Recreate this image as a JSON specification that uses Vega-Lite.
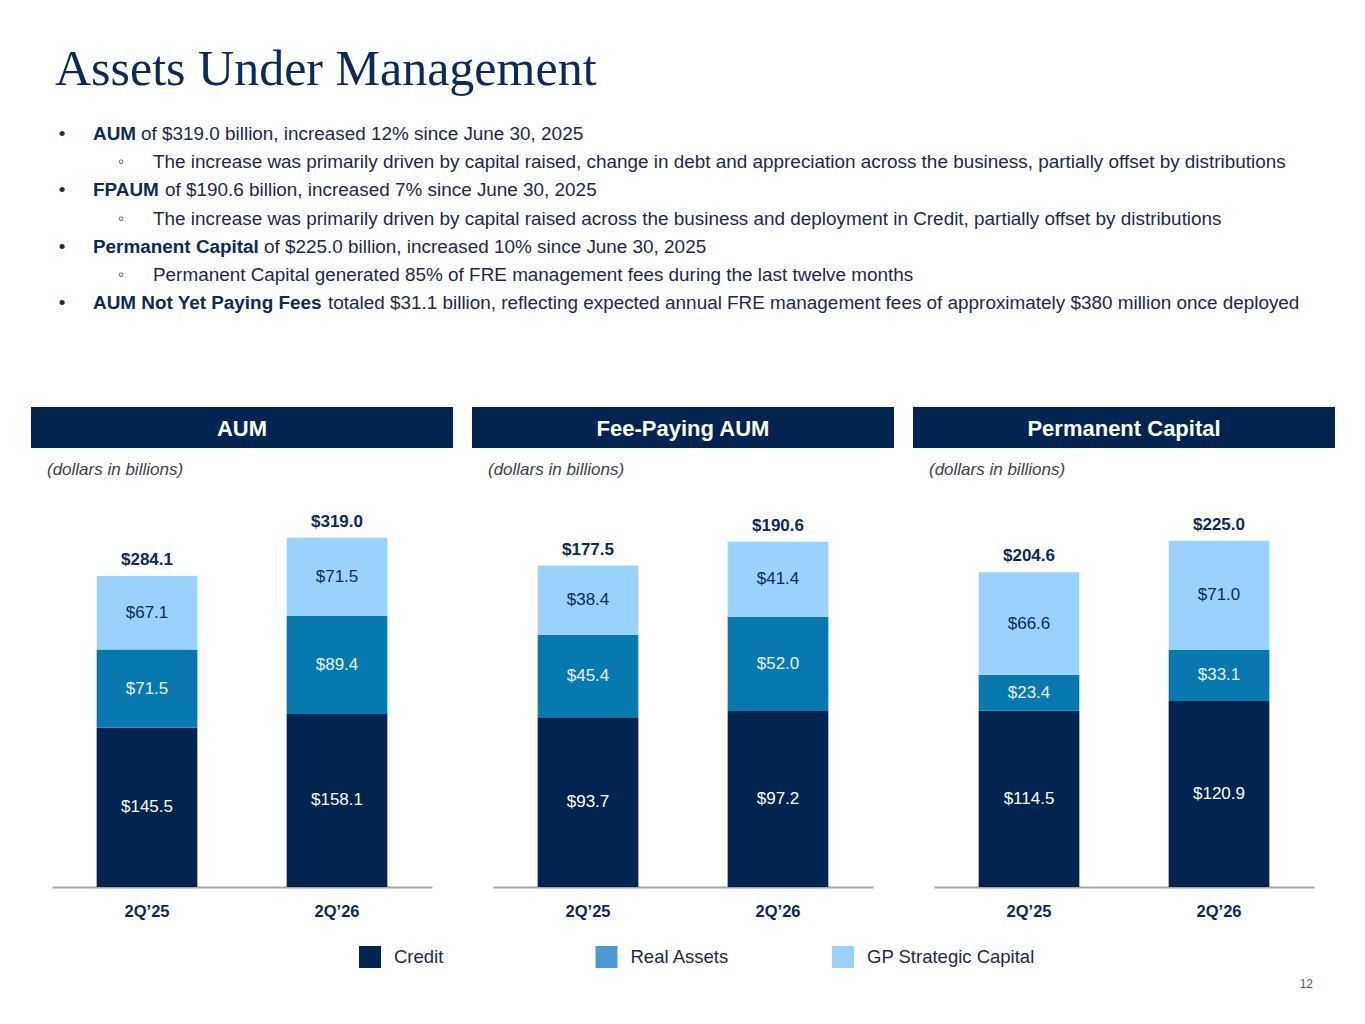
{
  "$schema": "https://vega.github.io/schema/vega-lite/v6.json",
  "background": "white",
  "padding": {"left": 31, "top": 45, "right": 0, "bottom": 0},
  "autosize": {"type": "pad"},
  "config": {
    "font": "Liberation Sans",
    "view": {"stroke": null},
    "axis": {"grid": false},
    "title": {"fontWeight": "normal"}
  },
  "datasets": {
    "bullets": [
      {"line": 1, "level": 1, "lead": "AUM", "rest": "of $319.0 billion, increased 12% since June 30, 2025"},
      {"line": 2, "level": 2, "lead": "", "rest": "The increase was primarily driven by capital raised, change in debt and appreciation across the business, partially offset by distributions"},
      {"line": 3, "level": 1, "lead": "FPAUM", "rest": "of $190.6 billion, increased 7% since June 30, 2025"},
      {"line": 4, "level": 2, "lead": "", "rest": "The increase was primarily driven by capital raised across the business and deployment in Credit, partially offset by distributions"},
      {"line": 5, "level": 1, "lead": "Permanent Capital", "rest": "of $225.0 billion, increased 10% since June 30, 2025"},
      {"line": 6, "level": 2, "lead": "", "rest": "Permanent Capital generated 85% of FRE management fees during the last twelve months"},
      {"line": 7, "level": 1, "lead": "AUM Not Yet Paying Fees", "rest": "totaled $31.1 billion, reflecting expected annual FRE management fees of approximately $380 million once deployed"}
    ],
    "segments": [
      {"panel": "AUM", "quarter": "2Q’25", "series": "Credit", "k": 1, "value": 145.5},
      {"panel": "AUM", "quarter": "2Q’25", "series": "Real Assets", "k": 2, "value": 71.5},
      {"panel": "AUM", "quarter": "2Q’25", "series": "GP Strategic Capital", "k": 3, "value": 67.1},
      {"panel": "AUM", "quarter": "2Q’26", "series": "Credit", "k": 1, "value": 158.1},
      {"panel": "AUM", "quarter": "2Q’26", "series": "Real Assets", "k": 2, "value": 89.4},
      {"panel": "AUM", "quarter": "2Q’26", "series": "GP Strategic Capital", "k": 3, "value": 71.5},
      {"panel": "FPAUM", "quarter": "2Q’25", "series": "Credit", "k": 1, "value": 93.7},
      {"panel": "FPAUM", "quarter": "2Q’25", "series": "Real Assets", "k": 2, "value": 45.4},
      {"panel": "FPAUM", "quarter": "2Q’25", "series": "GP Strategic Capital", "k": 3, "value": 38.4},
      {"panel": "FPAUM", "quarter": "2Q’26", "series": "Credit", "k": 1, "value": 97.2},
      {"panel": "FPAUM", "quarter": "2Q’26", "series": "Real Assets", "k": 2, "value": 52.0},
      {"panel": "FPAUM", "quarter": "2Q’26", "series": "GP Strategic Capital", "k": 3, "value": 41.4},
      {"panel": "PC", "quarter": "2Q’25", "series": "Credit", "k": 1, "value": 114.5},
      {"panel": "PC", "quarter": "2Q’25", "series": "Real Assets", "k": 2, "value": 23.4},
      {"panel": "PC", "quarter": "2Q’25", "series": "GP Strategic Capital", "k": 3, "value": 66.6},
      {"panel": "PC", "quarter": "2Q’26", "series": "Credit", "k": 1, "value": 120.9},
      {"panel": "PC", "quarter": "2Q’26", "series": "Real Assets", "k": 2, "value": 33.1},
      {"panel": "PC", "quarter": "2Q’26", "series": "GP Strategic Capital", "k": 3, "value": 71.0}
    ],
    "totals": [
      {"panel": "AUM", "quarter": "2Q’25", "total": 284.1},
      {"panel": "AUM", "quarter": "2Q’26", "total": 319.0},
      {"panel": "FPAUM", "quarter": "2Q’25", "total": 177.5},
      {"panel": "FPAUM", "quarter": "2Q’26", "total": 190.6},
      {"panel": "PC", "quarter": "2Q’25", "total": 204.6},
      {"panel": "PC", "quarter": "2Q’26", "total": 225.0}
    ],
    "legend": [
      {"series": "Credit"},
      {"series": "Real Assets"},
      {"series": "GP Strategic Capital"}
    ]
  },
  "spacing": 91,
  "vconcat": [
    {
      "width": 1304,
      "height": 198,
      "title": {"text": "Assets Under Management", "anchor": "start", "font": "Liberation Serif", "fontSize": 50, "fontWeight": "normal", "color": "#0B2A5B", "dx": 24, "offset": 23},
      "data": {"name": "bullets"},
      "encoding": {
        "y": {"field": "line", "type": "ordinal", "scale": {"type": "point", "padding": 0.5}, "axis": null},
        "x": {"field": "level", "type": "quantitative", "scale": {"domain": [1, 2], "range": [31, 90]}, "axis": null}
      },
      "layer": [
        {"transform": [{"filter": "datum.level === 1"}], "mark": {"type": "text", "text": "•", "align": "center", "baseline": "middle", "dy": 1.5, "fontSize": 18.9, "color": "#1C2A48"}},
        {"transform": [{"filter": "datum.level === 2"}], "mark": {"type": "text", "text": "◦", "align": "center", "baseline": "middle", "dy": 1.5, "fontSize": 17, "color": "#1C2A48"}},
        {"transform": [{"filter": "datum.level === 2"}], "mark": {"type": "text", "align": "left", "baseline": "middle", "dy": 1.5, "dx": 32, "fontSize": 18.9, "color": "#1C2A48"}, "encoding": {"text": {"field": "rest"}}},
        {"transform": [{"filter": "datum.level === 1"}], "mark": {"type": "text", "align": "left", "baseline": "middle", "dy": 1.5, "dx": 31, "fontSize": 18.9, "fontWeight": "bold", "color": "#0B2A5B"}, "encoding": {"text": {"field": "lead"}}},
        {"transform": [{"filter": "datum.line === 1"}], "mark": {"type": "text", "align": "left", "baseline": "middle", "dy": 1.5, "dx": 79, "fontSize": 18.9, "color": "#1C2A48"}, "encoding": {"text": {"field": "rest"}}},
        {"transform": [{"filter": "datum.line === 3"}], "mark": {"type": "text", "align": "left", "baseline": "middle", "dy": 1.5, "dx": 103, "fontSize": 18.9, "color": "#1C2A48"}, "encoding": {"text": {"field": "rest"}}},
        {"transform": [{"filter": "datum.line === 5"}], "mark": {"type": "text", "align": "left", "baseline": "middle", "dy": 1.5, "dx": 202, "fontSize": 18.9, "color": "#1C2A48"}, "encoding": {"text": {"field": "rest"}}},
        {"transform": [{"filter": "datum.line === 7"}], "mark": {"type": "text", "align": "left", "baseline": "middle", "dy": 1.5, "dx": 266, "fontSize": 18.9, "color": "#1C2A48"}, "encoding": {"text": {"field": "rest"}}}
      ]
    },
    {
      "spacing": 25,
      "vconcat": [
        {
          "spacing": 19,
          "hconcat": [
            {
              "bounds": "flush",
              "spacing": 46,
              "center": true,
              "vconcat": [
                {
                  "width": 422,
                  "height": 41,
                  "view": {"fill": "#012450", "stroke": null},
                  "data": {"values": [{"label": "AUM"}]},
                  "mark": {"type": "text", "font": "Liberation Sans", "fontWeight": "bold", "fontSize": 22, "color": "white", "baseline": "middle", "dy": 1},
                  "encoding": {"text": {"field": "label"}}
                },
                {
                  "width": 380,
                  "height": 393,
                  "title": {"text": "(dollars in billions)", "anchor": "start", "fontStyle": "italic", "fontSize": 17, "color": "#3A3F4A", "dx": -5, "offset": 15},
                  "layer": [
                    {
                      "data": {"name": "segments"},
                      "transform": [
                        {"filter": "datum.panel === 'AUM'"},
                        {"stack": "value", "groupby": ["quarter"], "sort": [{"field": "k", "order": "ascending"}], "as": ["v0", "v1"]}
                      ],
                      "mark": {"type": "bar"},
                      "encoding": {
                        "x": {"field": "quarter", "type": "ordinal", "title": null, "scale": {"paddingInner": 0.47, "paddingOuter": 0.235}, "axis": {"labelAngle": 0, "ticks": false, "tickSize": 0, "labelPadding": 16, "labelFontSize": 16.5, "labelFontWeight": "bold", "labelColor": "#0B2A5B", "domainColor": "#A6A6A6", "domainWidth": 2}},
                        "y": {"field": "v0", "type": "quantitative", "scale": {"domain": [0, 359], "nice": false, "zero": true}, "axis": null},
                        "y2": {"field": "v1"},
                        "color": {"field": "series", "type": "nominal", "scale": {"domain": ["Credit", "Real Assets", "GP Strategic Capital"], "range": ["#012450", "#0779AF", "#99D3FD"]}, "legend": null}
                      }
                    },
                    {
                      "data": {"name": "segments"},
                      "transform": [
                        {"filter": "datum.panel === 'AUM'"},
                        {"stack": "value", "groupby": ["quarter"], "sort": [{"field": "k", "order": "ascending"}], "as": ["v0", "v1"]},
                        {"calculate": "(datum.v0 + datum.v1) / 2", "as": "mid"}
                      ],
                      "mark": {"type": "text", "fontSize": 17, "baseline": "middle"},
                      "encoding": {
                        "x": {"field": "quarter", "type": "ordinal"},
                        "y": {"field": "mid", "type": "quantitative"},
                        "text": {"field": "value", "type": "quantitative", "format": "$.1f"},
                        "color": {"condition": [{"test": "datum.series === 'GP Strategic Capital'", "value": "#0B2A5B"}, {"test": "datum.series === 'Real Assets'", "value": "#E8F3FC"}], "value": "#FFFFFF"}
                      }
                    },
                    {
                      "data": {"name": "totals"},
                      "transform": [{"filter": "datum.panel === 'AUM'"}],
                      "mark": {"type": "text", "fontSize": 17, "fontWeight": "bold", "baseline": "alphabetic", "dy": -11, "color": "#0B2A5B"},
                      "encoding": {
                        "x": {"field": "quarter", "type": "ordinal"},
                        "y": {"field": "total", "type": "quantitative"},
                        "text": {"field": "total", "type": "quantitative", "format": "$.1f"}
                      }
                    }
                  ]
                }
              ]
            },
            {
              "bounds": "flush",
              "spacing": 46,
              "center": true,
              "vconcat": [
                {
                  "width": 422,
                  "height": 41,
                  "view": {"fill": "#012450", "stroke": null},
                  "data": {"values": [{"label": "Fee-Paying AUM"}]},
                  "mark": {"type": "text", "font": "Liberation Sans", "fontWeight": "bold", "fontSize": 22, "color": "white", "baseline": "middle", "dy": 1},
                  "encoding": {"text": {"field": "label"}}
                },
                {
                  "width": 380,
                  "height": 393,
                  "title": {"text": "(dollars in billions)", "anchor": "start", "fontStyle": "italic", "fontSize": 17, "color": "#3A3F4A", "dx": -5, "offset": 15},
                  "layer": [
                    {
                      "data": {"name": "segments"},
                      "transform": [
                        {"filter": "datum.panel === 'FPAUM'"},
                        {"stack": "value", "groupby": ["quarter"], "sort": [{"field": "k", "order": "ascending"}], "as": ["v0", "v1"]}
                      ],
                      "mark": {"type": "bar"},
                      "encoding": {
                        "x": {"field": "quarter", "type": "ordinal", "title": null, "scale": {"paddingInner": 0.47, "paddingOuter": 0.235}, "axis": {"labelAngle": 0, "ticks": false, "tickSize": 0, "labelPadding": 16, "labelFontSize": 16.5, "labelFontWeight": "bold", "labelColor": "#0B2A5B", "domainColor": "#A6A6A6", "domainWidth": 2}},
                        "y": {"field": "v0", "type": "quantitative", "scale": {"domain": [0, 217], "nice": false, "zero": true}, "axis": null},
                        "y2": {"field": "v1"},
                        "color": {"field": "series", "type": "nominal", "scale": {"domain": ["Credit", "Real Assets", "GP Strategic Capital"], "range": ["#012450", "#0779AF", "#99D3FD"]}, "legend": null}
                      }
                    },
                    {
                      "data": {"name": "segments"},
                      "transform": [
                        {"filter": "datum.panel === 'FPAUM'"},
                        {"stack": "value", "groupby": ["quarter"], "sort": [{"field": "k", "order": "ascending"}], "as": ["v0", "v1"]},
                        {"calculate": "(datum.v0 + datum.v1) / 2", "as": "mid"}
                      ],
                      "mark": {"type": "text", "fontSize": 17, "baseline": "middle"},
                      "encoding": {
                        "x": {"field": "quarter", "type": "ordinal"},
                        "y": {"field": "mid", "type": "quantitative"},
                        "text": {"field": "value", "type": "quantitative", "format": "$.1f"},
                        "color": {"condition": [{"test": "datum.series === 'GP Strategic Capital'", "value": "#0B2A5B"}, {"test": "datum.series === 'Real Assets'", "value": "#E8F3FC"}], "value": "#FFFFFF"}
                      }
                    },
                    {
                      "data": {"name": "totals"},
                      "transform": [{"filter": "datum.panel === 'FPAUM'"}],
                      "mark": {"type": "text", "fontSize": 17, "fontWeight": "bold", "baseline": "alphabetic", "dy": -11, "color": "#0B2A5B"},
                      "encoding": {
                        "x": {"field": "quarter", "type": "ordinal"},
                        "y": {"field": "total", "type": "quantitative"},
                        "text": {"field": "total", "type": "quantitative", "format": "$.1f"}
                      }
                    }
                  ]
                }
              ]
            },
            {
              "bounds": "flush",
              "spacing": 46,
              "center": true,
              "vconcat": [
                {
                  "width": 422,
                  "height": 41,
                  "view": {"fill": "#012450", "stroke": null},
                  "data": {"values": [{"label": "Permanent Capital"}]},
                  "mark": {"type": "text", "font": "Liberation Sans", "fontWeight": "bold", "fontSize": 22, "color": "white", "baseline": "middle", "dy": 1},
                  "encoding": {"text": {"field": "label"}}
                },
                {
                  "width": 380,
                  "height": 393,
                  "title": {"text": "(dollars in billions)", "anchor": "start", "fontStyle": "italic", "fontSize": 17, "color": "#3A3F4A", "dx": -5, "offset": 15},
                  "layer": [
                    {
                      "data": {"name": "segments"},
                      "transform": [
                        {"filter": "datum.panel === 'PC'"},
                        {"stack": "value", "groupby": ["quarter"], "sort": [{"field": "k", "order": "ascending"}], "as": ["v0", "v1"]}
                      ],
                      "mark": {"type": "bar"},
                      "encoding": {
                        "x": {"field": "quarter", "type": "ordinal", "title": null, "scale": {"paddingInner": 0.47, "paddingOuter": 0.235}, "axis": {"labelAngle": 0, "ticks": false, "tickSize": 0, "labelPadding": 16, "labelFontSize": 16.5, "labelFontWeight": "bold", "labelColor": "#0B2A5B", "domainColor": "#A6A6A6", "domainWidth": 2}},
                        "y": {"field": "v0", "type": "quantitative", "scale": {"domain": [0, 255.4], "nice": false, "zero": true}, "axis": null},
                        "y2": {"field": "v1"},
                        "color": {"field": "series", "type": "nominal", "scale": {"domain": ["Credit", "Real Assets", "GP Strategic Capital"], "range": ["#012450", "#0779AF", "#99D3FD"]}, "legend": null}
                      }
                    },
                    {
                      "data": {"name": "segments"},
                      "transform": [
                        {"filter": "datum.panel === 'PC'"},
                        {"stack": "value", "groupby": ["quarter"], "sort": [{"field": "k", "order": "ascending"}], "as": ["v0", "v1"]},
                        {"calculate": "(datum.v0 + datum.v1) / 2", "as": "mid"}
                      ],
                      "mark": {"type": "text", "fontSize": 17, "baseline": "middle"},
                      "encoding": {
                        "x": {"field": "quarter", "type": "ordinal"},
                        "y": {"field": "mid", "type": "quantitative"},
                        "text": {"field": "value", "type": "quantitative", "format": "$.1f"},
                        "color": {"condition": [{"test": "datum.series === 'GP Strategic Capital'", "value": "#0B2A5B"}, {"test": "datum.series === 'Real Assets'", "value": "#E8F3FC"}], "value": "#FFFFFF"}
                      }
                    },
                    {
                      "data": {"name": "totals"},
                      "transform": [{"filter": "datum.panel === 'PC'"}],
                      "mark": {"type": "text", "fontSize": 17, "fontWeight": "bold", "baseline": "alphabetic", "dy": -11, "color": "#0B2A5B"},
                      "encoding": {
                        "x": {"field": "quarter", "type": "ordinal"},
                        "y": {"field": "total", "type": "quantitative"},
                        "text": {"field": "total", "type": "quantitative", "format": "$.1f"}
                      }
                    }
                  ]
                }
              ]
            }
          ]
        },
        {
          "width": 1304,
          "height": 24,
          "data": {"name": "legend"},
          "title": {"text": "12", "orient": "bottom", "anchor": "end", "fontSize": 12, "color": "#595959", "dx": -22, "offset": 10},
          "encoding": {
            "x": {"field": "series", "type": "nominal", "sort": ["Credit", "Real Assets", "GP Strategic Capital"], "scale": {"type": "point", "padding": 0, "range": [339, 812]}, "axis": null}
          },
          "layer": [
            {
              "mark": {"type": "point", "shape": "square", "filled": true, "size": 484, "opacity": 1, "strokeWidth": 0},
              "encoding": {
                "fill": {"field": "series", "type": "nominal", "scale": {"domain": ["Credit", "Real Assets", "GP Strategic Capital"], "range": ["#012450", "#4B99D2", "#99D3FD"]}, "legend": null}
              }
            },
            {
              "mark": {"type": "text", "align": "left", "baseline": "middle", "dx": 24, "fontSize": 18.5, "color": "#1E2B45"},
              "encoding": {"text": {"field": "series"}}
            }
          ]
        }
      ]
    }
  ]
}
